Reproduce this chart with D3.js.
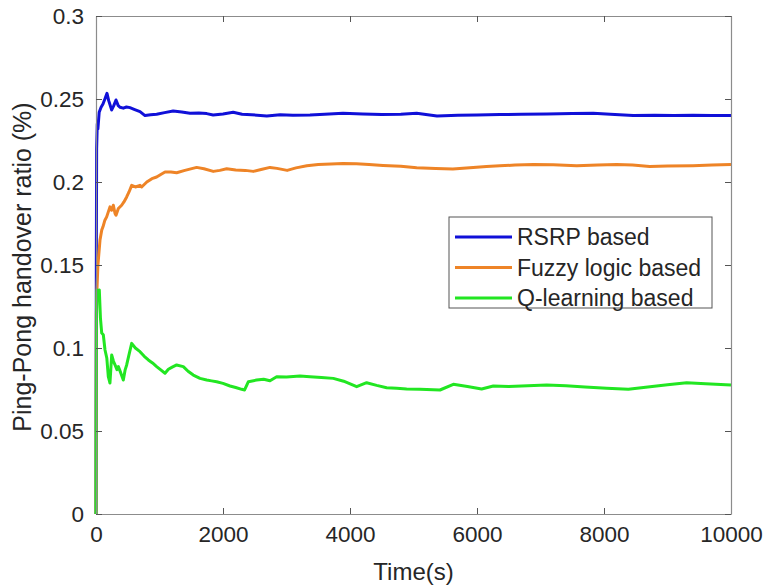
<!DOCTYPE html>
<html>
<head>
<meta charset="utf-8">
<script src="https://cdn.jsdelivr.net/npm/d3@7"></script>
<style>
  html, body { margin: 0; padding: 0; background: #fff; }
  svg { display: block; }
  text { font-family: "Liberation Sans", Arial, sans-serif; fill: #262626; }
</style>
</head>
<body>
<svg id="chart" width="767" height="588"></svg>
<script>
// ---- data ----
const seriesNames = ["RSRP based", "Fuzzy logic based", "Q-learning based"];
const xTicks = [0, 2000, 4000, 6000, 8000, 10000];
const yTicks = [0, 0.05, 0.1, 0.15, 0.2, 0.25, 0.3];
const yTickLabels = ["0", "0.05", "0.1", "0.15", "0.2", "0.25", "0.3"];

// [time (s), ratio]
const rsrpData = [
  [0,0],[5,0.15],[10,0.22],[20,0.235],[30,0.232],[50,0.242],[80,0.245],[110,0.247],[140,0.25],[173,0.2534],
  [200,0.249],[247,0.2434],[280,0.246],[315,0.2494],[350,0.246],[380,0.245],[430,0.2445],[480,0.2452],[535,0.2448],
  [600,0.2438],[693,0.2424],[772,0.240],[860,0.2405],[955,0.2408],[1080,0.2418],[1215,0.2428],[1350,0.2422],
  [1480,0.2414],[1620,0.2416],[1743,0.2412],[1845,0.2404],[2000,0.241],[2160,0.242],[2300,0.2408],[2450,0.2405],
  [2690,0.2398],[2900,0.2405],[3100,0.2402],[3370,0.2404],[3600,0.2408],[3890,0.2414],[4200,0.241],[4500,0.2406],
  [4800,0.2408],[5050,0.2414],[5370,0.2398],[5700,0.2402],[6000,0.2404],[6360,0.2406],[6700,0.2408],[7100,0.241],
  [7500,0.2412],[7830,0.2414],[8100,0.2408],[8460,0.240],[8800,0.2402],[9100,0.2401],[9400,0.2402],[9700,0.240],[10000,0.240]
];
const fuzzyData = [
  [0,0],[5,0.12],[15,0.135],[30,0.15],[63,0.165],[90,0.171],[110,0.173],[140,0.177],[168,0.179],[220,0.185],
  [247,0.183],[273,0.186],[300,0.181],[315,0.180],[352,0.184],[404,0.186],[440,0.188],[483,0.191],[520,0.194],
  [562,0.198],[620,0.197],[693,0.198],[719,0.197],[800,0.2],[880,0.202],[955,0.203],[1020,0.2045],[1087,0.206],
  [1180,0.206],[1270,0.2056],[1400,0.207],[1585,0.2088],[1700,0.208],[1847,0.2064],[1950,0.207],[2058,0.208],
  [2200,0.2072],[2350,0.207],[2477,0.2064],[2600,0.2075],[2740,0.2088],[2850,0.2082],[3010,0.207],[3150,0.2085],
  [3320,0.2098],[3500,0.2105],[3700,0.2108],[3890,0.2112],[4100,0.211],[4300,0.2105],[4520,0.210],[4800,0.2095],
  [5050,0.2086],[5350,0.2082],[5620,0.2078],[5940,0.2088],[6150,0.2094],[6360,0.2098],[6600,0.2102],[6890,0.2106],
  [7200,0.2104],[7570,0.2098],[7900,0.2102],[8200,0.2106],[8450,0.2102],[8720,0.2094],[9000,0.2096],[9400,0.2098],
  [9700,0.2102],[10000,0.2106]
];
const qlearnData = [
  [0,0],[3,0.06],[8,0.12],[15,0.135],[30,0.13],[52,0.135],[70,0.118],[90,0.109],[115,0.108],[142,0.0988],
  [170,0.094],[194,0.0827],[220,0.0789],[247,0.0958],[275,0.092],[300,0.0898],[330,0.087],[352,0.0888],[390,0.085],
  [430,0.0807],[460,0.087],[483,0.0898],[520,0.096],[562,0.1028],[620,0.1],[693,0.0978],[760,0.095],[824,0.0928],
  [890,0.091],[955,0.0888],[1020,0.0868],[1087,0.0848],[1140,0.0872],[1200,0.0885],[1270,0.0898],[1375,0.0888],
  [1450,0.086],[1532,0.0837],[1638,0.0817],[1743,0.0807],[1820,0.0802],[1900,0.0797],[2000,0.0787],[2110,0.0771],
  [2200,0.0762],[2295,0.0751],[2340,0.0747],[2400,0.0797],[2530,0.0807],[2640,0.0812],[2740,0.0803],[2845,0.0827],
  [3000,0.0825],[3213,0.0831],[3370,0.0827],[3550,0.0822],[3737,0.0817],[3900,0.080],[4105,0.0767],[4262,0.0791],
  [4420,0.0775],[4577,0.0761],[4735,0.0757],[4892,0.0753],[5100,0.0752],[5417,0.0747],[5627,0.0781],[5850,0.0768],
  [6073,0.0753],[6257,0.0771],[6500,0.0768],[6800,0.0772],[7097,0.0777],[7400,0.0772],[7700,0.0765],[8042,0.0757],
  [8383,0.0751],[8724,0.0767],[9000,0.0778],[9302,0.0791],[9600,0.0785],[10000,0.0777]
];
const colors = ["#1010d8", "#ee8427", "#22e622"];

// ---- layout ----
const svg = d3.select("#chart");
const L = 96, R = 731, T = 16, B = 514;
const x = d3.scaleLinear().domain([0, 10000]).range([L, R]);
const y = d3.scaleLinear().domain([0, 0.3]).range([B, T]);
const axisColor = "#8c8c8c";
const fs = 22.5;

// lines
const line = d3.line().x(d => x(d[0])).y(d => y(d[1])).curve(d3.curveLinear);
const allData = [rsrpData, fuzzyData, qlearnData];
const g = svg.append("g");
allData.forEach((data, i) => {
  g.append("path").datum(data)
    .attr("d", line)
    .attr("fill", "none")
    .attr("stroke", colors[i])
    .attr("stroke-width", 3)
    .attr("stroke-linejoin", "round");
});

// axes (ticks inward, mirrored on all sides)
const tickLen = 6;
const xb = svg.append("g").attr("transform", `translate(0,${B})`)
  .call(d3.axisBottom(x).tickValues(xTicks).tickSizeInner(-tickLen).tickSizeOuter(0).tickPadding(12).tickFormat(d3.format("d")));
const xt = svg.append("g").attr("transform", `translate(0,${T})`)
  .call(d3.axisTop(x).tickValues(xTicks).tickSizeInner(-tickLen).tickSizeOuter(0).tickFormat(""));
const yl = svg.append("g").attr("transform", `translate(${L},0)`)
  .call(d3.axisLeft(y).tickValues(yTicks).tickSizeInner(-tickLen).tickSizeOuter(0).tickPadding(12).tickFormat((d, i) => yTickLabels[i]));
const yr = svg.append("g").attr("transform", `translate(${R},0)`)
  .call(d3.axisRight(y).tickValues(yTicks).tickSizeInner(-tickLen).tickSizeOuter(0).tickFormat(""));
[xb, xt, yl, yr].forEach(a => {
  a.select(".domain").attr("stroke", axisColor).attr("stroke-width", 1.2);
  a.selectAll(".tick line").attr("stroke", "#555").attr("stroke-width", 1);
  a.selectAll(".tick text").attr("font-size", fs).attr("fill", "#262626")
    .attr("font-family", "Liberation Sans, Arial, sans-serif");
});

// axis labels
svg.append("text").attr("x", (L + R) / 2).attr("y", 580)
  .attr("text-anchor", "middle").attr("font-size", 24).text("Time(s)");
svg.append("text").attr("transform", `translate(31,${(T + B) / 2 + 2}) rotate(-90)`)
  .attr("text-anchor", "middle").attr("font-size", 25).text("Ping-Pong handover ratio (%)");

// legend
const lg = svg.append("g");
lg.append("rect").attr("x", 449).attr("y", 217).attr("width", 263).attr("height", 91)
  .attr("fill", "#fff").attr("stroke", "#555").attr("stroke-width", 1);
seriesNames.forEach((name, i) => {
  const cy = 237 + i * 30.5;
  lg.append("line").attr("x1", 455).attr("x2", 512).attr("y1", cy).attr("y2", cy)
    .attr("stroke", colors[i]).attr("stroke-width", 3);
  lg.append("text").attr("x", 517).attr("y", cy).attr("dy", "0.35em")
    .attr("font-size", 23).text(name);
});
</script>
</body>
</html>
